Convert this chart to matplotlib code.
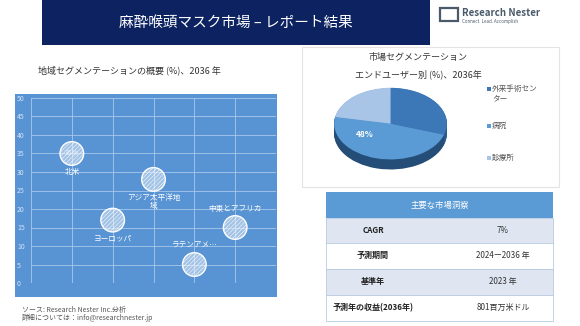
import numpy as np
import matplotlib
matplotlib.use("Agg")
import matplotlib.pyplot as plt
from matplotlib.patches import Rectangle

plt.rcParams['font.family'] = ['Noto Sans CJK JP', 'DejaVu Sans']
plt.rcParams['hatch.linewidth'] = 0.35

# data
regions = ['北米', 'ヨーロッパ', 'アジア太平洋地\n域', 'ラテンアメ…', '中東とアフリカ']
region_x = [1, 2, 3, 4, 5]
region_share = [35, 17, 28, 5, 15]
y_ticks = [0, 5, 10, 15, 20, 25, 30, 35, 40, 45, 50]

segments = ['外来手術セン\nター', '病院', '診療所']
segment_share = [30, 48, 22]

table_rows = ['CAGR', '予測期間', '基準年', '予測年の収益(2036年)']
table_vals = ['7%', '2024ー2036 年', '2023 年', '801百万米ドル']

W, H = 580, 326
fig = plt.figure(figsize=(W / 100, H / 100), dpi=100)


def box(x0, y0, x1, y1):
    # pixel box (top-left origin) -> figure fraction rect
    return [x0 / W, 1 - y1 / H, (x1 - x0) / W, (y1 - y0) / H]


def add_rect(x0, y0, x1, y1, z=-1, **kw):
    fig.patches.append(Rectangle((x0 / W, 1 - y1 / H), (x1 - x0) / W, (y1 - y0) / H,
                                 transform=fig.transFigure, zorder=z, **kw))


def ftext(x, y, s, **kw):
    fig.text(x / W, 1 - y / H, s, **kw)


# header
add_rect(42, 0, 430, 45, facecolor='#0c2261', edgecolor='none')
ftext(236, 23, '麻酔喉頭マスク市場 – レポート結果', color='white', fontsize=10.5,
      ha='center', va='center')
add_rect(440, 8, 458, 21, facecolor='none', edgecolor='#4a5a6a', lw=1.6)
ftext(462, 13, 'Research Nester', color='#4a5a6a', fontsize=7, fontweight='bold',
      ha='left', va='center')
ftext(462, 22, 'Connect. Lead. Accomplish', color='#4a5a6a', fontsize=3.2,
      ha='left', va='center')

# left: bubble chart
ftext(38, 70, '地域セグメンテーションの概要 (%)、2036 年', fontsize=6.5, color='#333333',
      ha='left', va='center')
add_rect(15, 94, 277, 297, facecolor='#5893d3', edgecolor='none')

ax = fig.add_axes(box(31, 98, 276, 283))
ax.set_facecolor('none')
ax.set_xlim(0, 6)
ax.set_ylim(0, 50)
ax.set_yticks(y_ticks)
ax.set_xticks([0, 1, 2, 3, 4, 5, 6])
ax.set_xticklabels([])
ax.grid(True, color='#a9c8ea', lw=0.6)
ax.set_axisbelow(True)
for sp in ax.spines.values():
    sp.set_visible(False)
ax.tick_params(axis='y', length=0, labelsize=5, labelcolor='#d5e4f4', pad=10)
ax.tick_params(axis='x', length=0)
for lab in ax.get_yticklabels():
    lab.set_horizontalalignment('left')

ax.scatter(region_x, region_share, s=290, facecolor=(1, 1, 1, 0.45),
           edgecolors='white', linewidths=1.0, hatch='////////', zorder=3)
for xv, yv, name in zip(region_x, region_share, regions):
    if yv < 10 or xv == 5:
        ax.text(xv, yv + 4, name, ha='center', va='bottom', fontsize=5.5,
                color='white')
    else:
        ax.text(xv, yv - 4, name, ha='center', va='top', fontsize=5.5,
                color='white', linespacing=1.0)
ax.text(region_x[0], region_share[0], f'{region_share[0]}%', ha='center',
        va='center', fontsize=5, color='#e8f0fa', zorder=4)

ftext(22, 310, 'ソース: Research Nester Inc.分析', fontsize=5, color='#555555',
      style='italic', ha='left', va='center')
ftext(22, 318, '詳細については：info@researchnester.jp', fontsize=5, color='#555555',
      style='italic', ha='left', va='center')

# right: pie chart panel
add_rect(302, 47, 559, 187, facecolor='white', edgecolor='#e3e3e3', lw=0.8)
ftext(418, 57, '市場セグメンテーション', fontsize=6.5, color='#333333',
      ha='center', va='center')
ftext(418, 74, 'エンドユーザー別 (%)、2036年', fontsize=6.5, color='#333333',
      ha='center', va='center')

pie_colors = ['#3c78b7', '#5b9bd5', '#a8c4e6']
side_colors = ['#2b5a8c', '#244d78', '#7e9cc0']
pax = fig.add_axes(box(333, 86, 448, 172))
pax.axis('off')
for k in np.linspace(0.28, 0.01, 14):
    pax.pie(segment_share, colors=side_colors, startangle=90, counterclock=False,
            center=(0, -k), wedgeprops=dict(linewidth=0))
wedges, _ = pax.pie(segment_share, colors=pie_colors, startangle=90,
                    counterclock=False, wedgeprops=dict(linewidth=0))
pax.set_aspect('auto')
pax.set_xlim(-1.02, 1.02)
pax.set_ylim(-1.35, 1.05)
pax.text(-0.45, -0.3, f'{segment_share[1]}%', ha='center', va='center',
         fontsize=6, color='white', fontweight='bold')

leg_y = [93, 126, 158]
for yy, name, c in zip(leg_y, segments, pie_colors):
    two = '\n' in name
    sq = yy - 6 if two else yy - 2
    add_rect(487, sq, 491, sq + 4, z=-0.5, facecolor=c, edgecolor='none')
    ftext(492, yy - 8 if two else yy, name, fontsize=5.5, color='#555555',
          ha='left', va='top' if two else 'center', linespacing=1.2)

# right: table
tx0, tx1 = 326, 553
add_rect(tx0, 192, tx1, 218, facecolor='#5b9bd5', edgecolor='none')
ftext((tx0 + tx1) / 2, 205, '主要な市場洞察', fontsize=6, color='white',
      ha='center', va='center')
row_top = [218, 243, 269, 295]
row_h = 25.5
for i, (name, val) in enumerate(zip(table_rows, table_vals)):
    y0 = row_top[i]
    add_rect(tx0, y0, tx1, y0 + row_h,
             facecolor='#dfe6f1' if i % 2 == 0 else 'white',
             edgecolor='#b8cbe0', lw=0.6)
    ftext(373, y0 + row_h / 2, name, fontsize=5.8, color='#222222',
          fontweight='bold', ha='center', va='center')
    ftext(503, y0 + row_h / 2, val, fontsize=5.8, color='#333333',
          ha='center', va='center')

fig.savefig('out.png', dpi=100)
